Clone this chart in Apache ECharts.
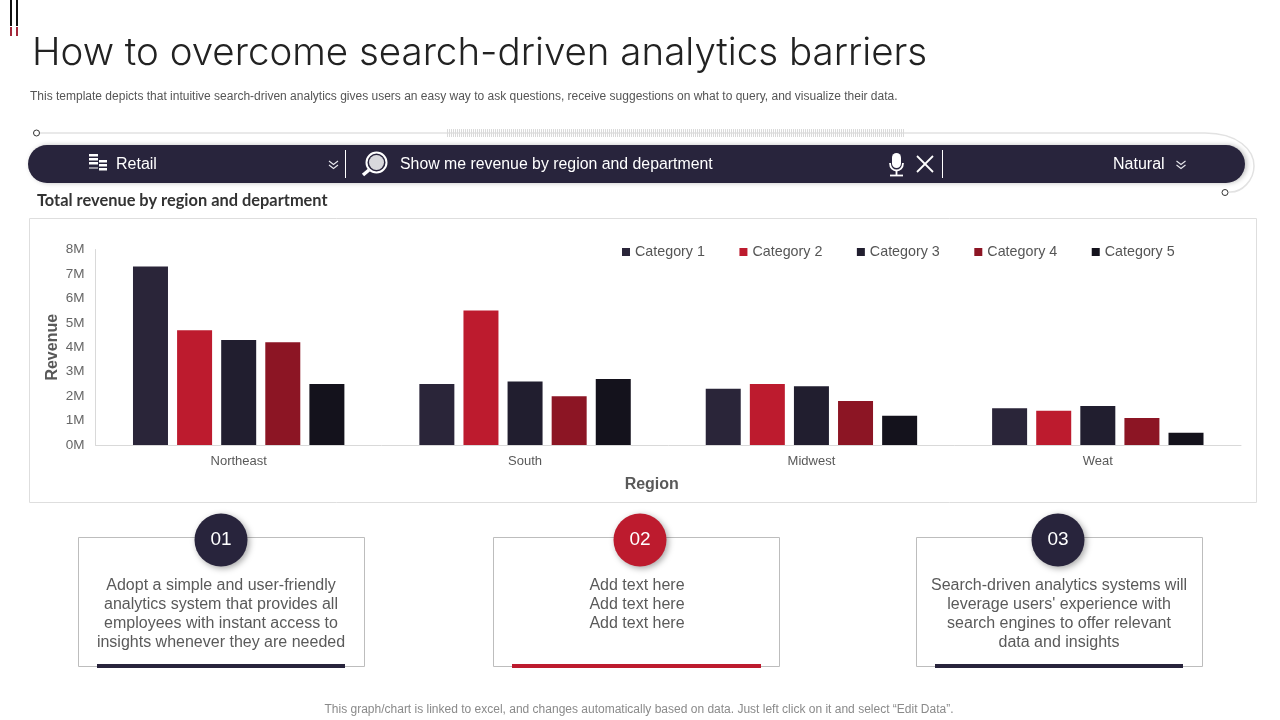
<!DOCTYPE html>
<html><head><meta charset="utf-8">
<style>html,body{margin:0;padding:0;background:#fff}#c{width:1280px;height:720px}</style>
<script src="https://cdn.jsdelivr.net/npm/echarts@6/dist/echarts.min.js"></script>
</head><body><div id="c"></div>
<script>
const regions = ['Northeast', 'South', 'Midwest', 'Weat'];
const seriesNames = ['Category 1', 'Category 2', 'Category 3', 'Category 4', 'Category 5'];
const category1 = [7.3, 2.5, 2.3, 1.5];
const category2 = [4.7, 5.5, 2.5, 1.4];
const category3 = [4.3, 2.6, 2.4, 1.6];
const category4 = [4.2, 2.0, 1.8, 1.1];
const category5 = [2.5, 2.7, 1.2, 0.5];
const seriesValues = [category1, category2, category3, category4, category5];
const colors = ['#2a2539', '#bd1b2e', '#211e2f', '#8c1524', '#14121c'];
const cardTexts = [
  'Adopt a simple and user-friendly\nanalytics system that provides all\nemployees with instant access to\ninsights whenever they are needed',
  'Add text here\nAdd text here\nAdd text here',
  "Search-driven analytics systems will\nleverage users' experience with\nsearch engines to offer relevant\ndata and insights"
];

const SANS = '"Liberation Sans", Arial, sans-serif';
const g = [];
function text(x, y, s, size, color, o) {
  o = o || {};
  g.push({type:'text', x, y, silent:true, z:o.z||5, style:{text:s, fontSize:size, fill:color,
    fontFamily:o.font||SANS, fontWeight:o.weight||'normal', align:o.align||'left', verticalAlign:o.va||'middle', lineHeight:o.lh}});
}
function rect(x, y, w, h, style, r) {
  g.push({type:'rect', silent:true, z:style.z||2, shape:{x, y, width:w, height:h, r:r||0}, style});
}
function line(x1, y1, x2, y2, stroke, lw, z) {
  g.push({type:'line', silent:true, z:z||3, shape:{x1, y1, x2, y2}, style:{stroke, lineWidth:lw||1}});
}
function curve(x1, y1, cpx1, cpy1, cpx2, cpy2, x2, y2, stroke, lw, z) {
  g.push({type:'bezierCurve', silent:true, z:z||3, shape:{x1, y1, x2, y2, cpx1, cpy1, cpx2, cpy2}, style:{stroke, lineWidth:lw||1, fill:null}});
}
function circle(cx, cy, r, style, z) {
  g.push({type:'circle', silent:true, z:z||3, shape:{cx, cy, r}, style});
}
function chevrons(cx, cy) {
  [-3, 1].forEach(d => g.push({type:'polyline', silent:true, z:4,
    shape:{points:[[cx-4.5, cy+d], [cx, cy+d+3.5], [cx+4.5, cy+d]]}, style:{stroke:'#e8e8ee', lineWidth:1.1, fill:null}}));
}

// corner marks
line(11, 0, 11, 26, '#111', 2); line(17, 0, 17, 26, '#111', 2);
line(11, 27, 11, 36, '#a3273a', 2); line(17, 27, 17, 36, '#a3273a', 2);

// headings
text(32, 53.5, 'How to overcome search-driven analytics barriers', 38.5, '#222', {font:'Inter, sans-serif', weight:300});
text(30, 96.5, 'This template depicts that intuitive search-driven analytics gives users an easy way to ask questions, receive suggestions on what to query, and visualize their data.', 12, '#555');

// search frame outline
line(40, 133, 1205, 133, '#e2e2e2', 1.5, 1);
curve(1205, 133, 1238, 133, 1254, 150, 1254, 166, '#e2e2e2', 1.5, 1);
curve(1254, 166, 1254, 180, 1242, 193, 1229, 192, '#e2e2e2', 1.5, 1);
for (let x = 447; x < 905; x += 2) line(x + .5, 129, x + .5, 137, '#dadada', 1, 2);
circle(36.5, 133, 3, {fill:'#fff', stroke:'#333', lineWidth:1});
circle(1225, 192.5, 3, {fill:'#fff', stroke:'#333', lineWidth:1});

// search bar
rect(28, 145, 1217, 38, {fill:'#28243c', shadowBlur:5, shadowColor:'rgba(0,0,0,.25)', shadowOffsetX:2, z:2}, 19);
text(116, 165, 'Retail', 16, '#fff');
text(400, 165, 'Show me revenue by region and department', 15.85, '#fff');
text(1113, 165, 'Natural', 16, '#fff');
line(345.5, 150, 345.5, 178, '#fff', 1); line(942.5, 150, 942.5, 178, '#fff', 1);
chevrons(333.5, 164); chevrons(1181, 164);
// retail icon
rect(89, 154, 9, 2.5, {fill:'#fff', z:4}); rect(89, 158, 9, 2.5, {fill:'#fff', z:4}); rect(89, 162, 9, 2.5, {fill:'#fff', z:4});
rect(99, 160, 8, 2.5, {fill:'#fff', z:4}); rect(99, 164, 8, 2.5, {fill:'#fff', z:4}); rect(99, 168, 8, 2.5, {fill:'#fff', z:4});
line(89, 168, 98, 168, '#fff', 1, 4);
// magnifier
circle(376.5, 162.5, 10, {fill:'#28243c', stroke:'#fff', lineWidth:2}, 4);
circle(376.5, 162.5, 7.5, {fill:'#d8d8dc'}, 4);
line(369, 170, 363, 175, '#fff', 3.5, 4);
// mic
rect(892, 153, 9, 15, {fill:'#fff', z:4}, 4.5);
curve(890, 163, 890, 173, 903, 173, 903, 163, '#fff', 1.8, 4);
line(896.5, 171, 896.5, 175, '#fff', 1.8, 4);
line(890, 175.5, 903, 175.5, '#fff', 1.8, 4);
// close
line(917, 156, 933, 172, '#fff', 1.8, 4); line(933, 156, 917, 172, '#fff', 1.8, 4);

// chart heading and frame
text(37, 200.5, 'Total revenue by region and department', 16.4, '#333', {font:'Lato, sans-serif', weight:'bold'});
rect(29.5, 218.5, 1227, 284, {fill:'none', stroke:'#dedede', lineWidth:1, z:0});

// cards
const cards = [
  {x:78.5, w:286, cx:221, bx:97, bw:248, c:'#28243c', tx:221},
  {x:493.5, w:286, cx:640, bx:512, bw:249, c:'#bd1b2e', tx:637},
  {x:916.5, w:286, cx:1058, bx:935, bw:248, c:'#28243c', tx:1059}
];
cards.forEach((k, i) => {
  rect(k.x, 537.5, k.w, 129, {fill:'#fff', stroke:'#bdbdbd', lineWidth:1, z:1});
  rect(k.bx, 664, k.bw, 4, {fill:k.c, z:2});
  circle(k.cx, 540, 26.5, {fill:k.c, shadowBlur:6, shadowColor:'rgba(0,0,0,.35)', shadowOffsetX:2, shadowOffsetY:2}, 3);
  text(k.cx, 540, '0' + (i + 1), 19, '#fff', {align:'center'});
  text(k.tx, 576, cardTexts[i], 16, '#5a5a5a', {align:'center', va:'top', lh:19});
});

text(639, 710, 'This graph/chart is linked to excel, and changes automatically based on data. Just left click on it and select “Edit Data”.', 12, '#8a8a8a', {align:'center'});

const chart = echarts.init(document.getElementById('c'), null, {renderer:'canvas'});
chart.setOption({
  animation:false,
  backgroundColor:'#fff',
  graphic:{elements:g},
  grid:{left:95.5, right:39, top:249.5, bottom:275, containLabel:false},
  legend:{
    data:seriesNames, left:617, top:240, itemWidth:8, itemHeight:8, itemGap:34.5, icon:'rect',
    textStyle:{fontFamily:SANS, fontSize:14.3, color:'#555'}
  },
  xAxis:{
    type:'category', data:regions,
    axisLine:{lineStyle:{color:'#d9d9d9', width:1}}, axisTick:{show:false},
    axisLabel:{fontFamily:SANS, fontSize:13, color:'#595959', margin:10},
    name:'Region', nameLocation:'middle', nameGap:32, nameMoveOverlap:false,
    nameTextStyle:{fontFamily:SANS, fontSize:16, fontWeight:'bold', color:'#595959', padding:[0,33,0,0]}
  },
  yAxis:{
    type:'value', min:0, max:8, interval:1,
    axisLine:{show:true, lineStyle:{color:'#d9d9d9', width:1}}, axisTick:{show:false}, splitLine:{show:false},
    axisLabel:{fontFamily:SANS, fontSize:13.5, color:'#666', margin:11, formatter:'{value}M'},
    name:'Revenue', nameLocation:'middle', nameGap:35, nameRotate:90, nameMoveOverlap:false,
    nameTextStyle:{fontFamily:SANS, fontSize:16, fontWeight:'bold', color:'#595959'}
  },
  series:seriesNames.map((n, i) => ({
    name:n, type:'bar', data:seriesValues[i], barWidth:35, barGap:'26%',
    itemStyle:{color:colors[i]}, z:2
  }))
});
</script></body></html>
